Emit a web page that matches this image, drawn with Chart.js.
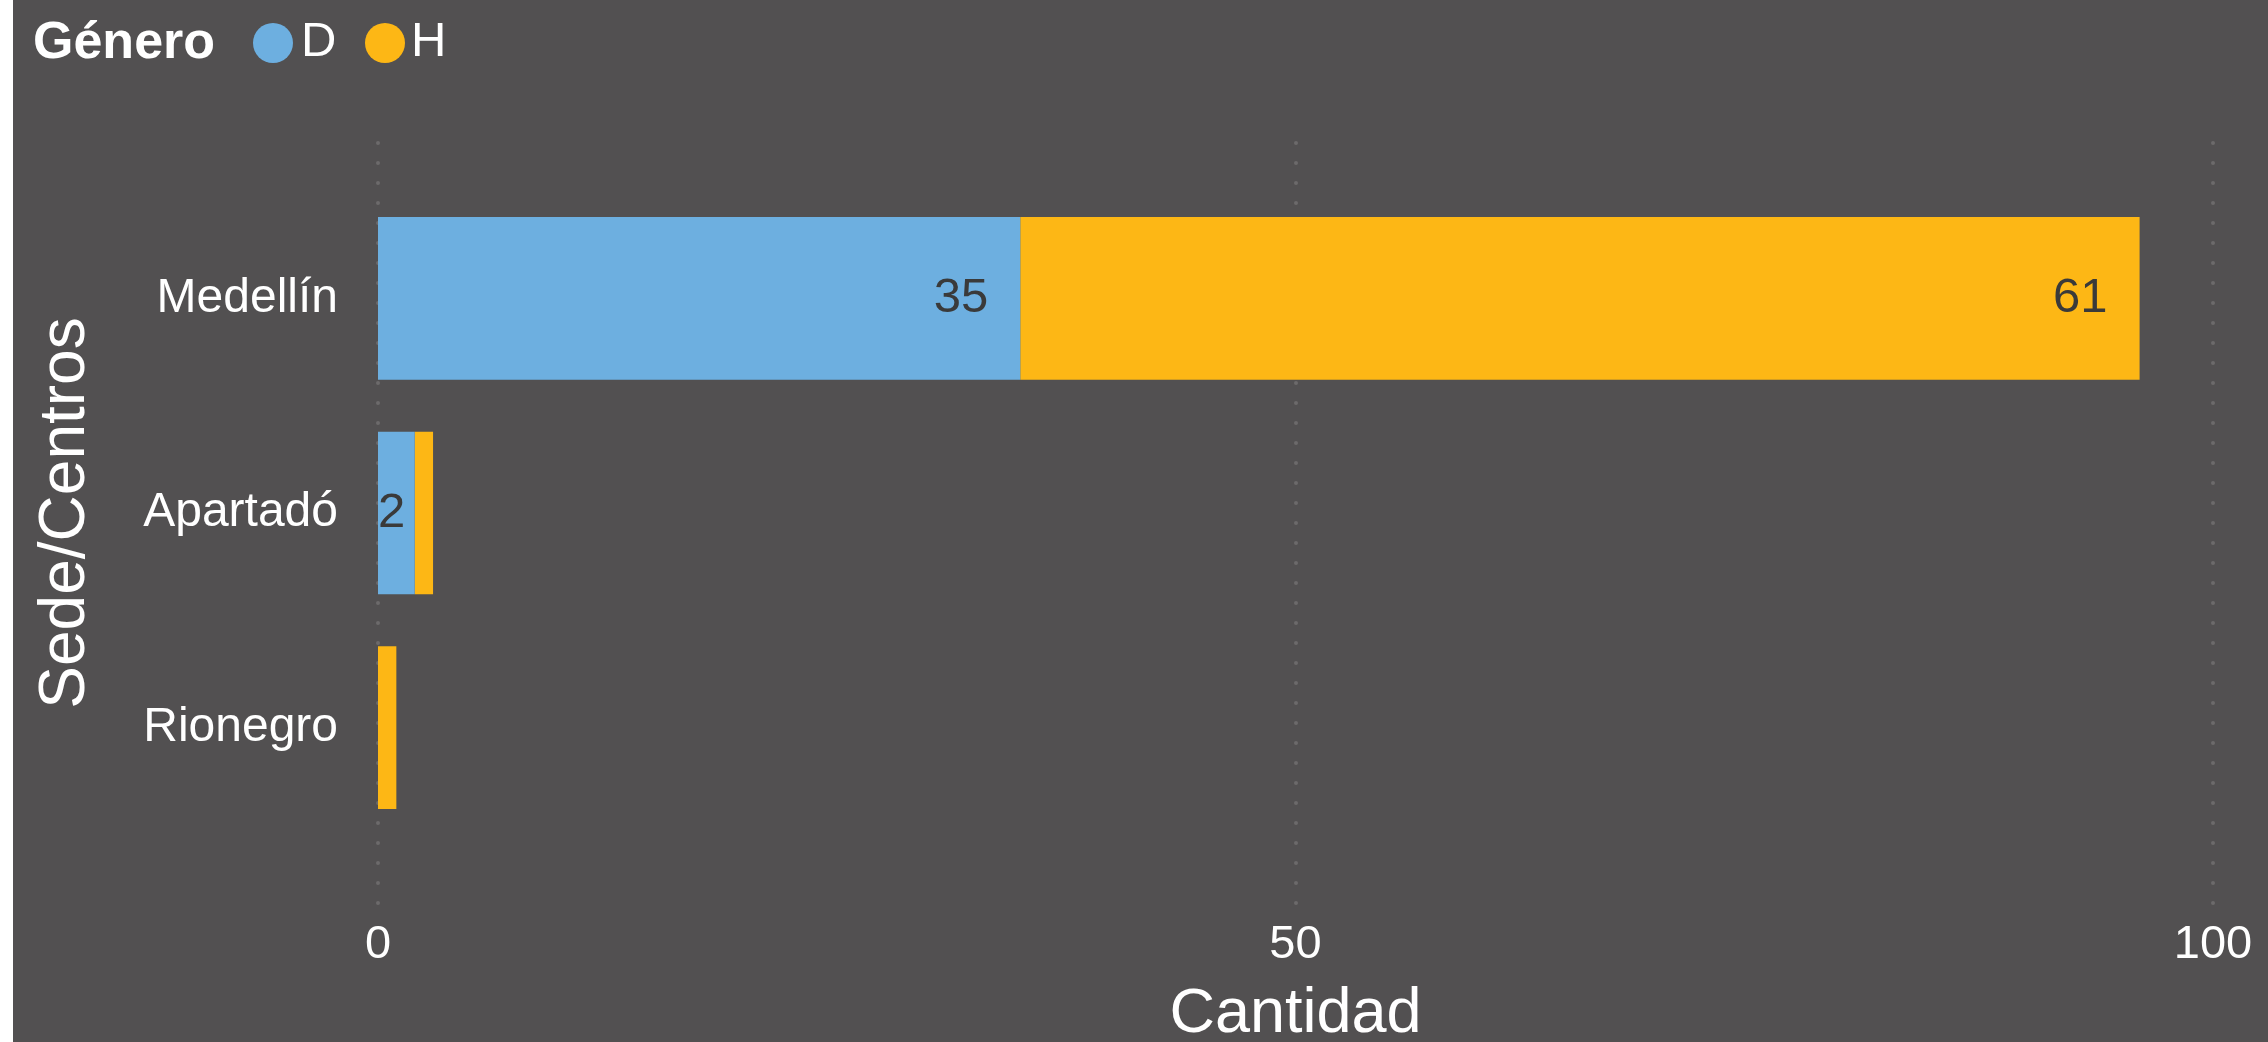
<!DOCTYPE html>
<html>
<head>
<meta charset="utf-8">
<script src="https://cdn.jsdelivr.net/npm/chart.js@4.4.1/dist/chart.umd.min.js"></script>
<style>
  html, body { margin: 0; padding: 0; background: #ffffff; overflow: hidden; }
  #panel {
    position: absolute; left: 13px; top: 0; width: 2255px; height: 1042px;
    background: #525051; font-family: "Liberation Sans", Arial, sans-serif; color: #ffffff;
  }
  #panel canvas { position: absolute; left: 0; top: 0; }
  .leg { position: absolute; line-height: 1; white-space: nowrap; }
  .dot { position: absolute; width: 40px; height: 40px; border-radius: 50%; }
</style>
</head>
<body>
<div id="panel">
  <canvas id="chart"></canvas>
  <span class="leg" style="left:20px; top:14px; font-size:52px; font-weight:bold;">Género</span>
  <div class="dot" style="left:240px; top:23px; background:#6DAFE0;"></div>
  <span class="leg" style="left:288px; top:15px; font-size:49px;">D</span>
  <div class="dot" style="left:352px; top:23px; background:#FDB715;"></div>
  <span class="leg" style="left:398px; top:15px; font-size:49px;">H</span>
</div>
<script>
// datos
const sedes = ['Medellín', 'Apartadó', 'Rionegro'];
const valoresD = [35, 2, 0];
const valoresH = [61, 1, 1];
const ticksX = [0, 50, 100];

const FONT = '"Liberation Sans", Arial, sans-serif';

// lineas punteadas de la cuadricula (se salen del area del grafico)
const gridDots = {
    id: 'gridDots',
    beforeDatasetsDraw(chart) {
        const ctx = chart.ctx;
        const x = chart.scales.x;
        ctx.save();
        ctx.strokeStyle = '#6c6a6b';
        ctx.lineWidth = 4;
        ctx.lineCap = 'round';
        ctx.setLineDash([0, 20]);
        x.ticks.forEach(t => {
            const px = Math.round(x.getPixelForValue(t.value));
            ctx.beginPath();
            ctx.moveTo(px, 143);
            ctx.lineTo(px, 904);
            ctx.stroke();
        });
        ctx.restore();
    }
};

// etiquetas de datos dentro del final de cada segmento
const barLabels = {
    id: 'barLabels',
    afterDatasetsDraw(chart) {
        const ctx = chart.ctx;
        ctx.save();
        ctx.font = '49px ' + FONT;
        ctx.fillStyle = '#3a3a3a';
        ctx.textBaseline = 'middle';
        ctx.textAlign = 'left';
        chart.data.datasets.forEach((ds, i) => {
            chart.getDatasetMeta(i).data.forEach((bar, j) => {
                const v = ds.data[j];
                if (!v) return;
                const w = Math.abs(bar.x - bar.base);
                if (w < 25) return;
                const txt = String(v);
                const tw = ctx.measureText(txt).width;
                let left = bar.x - 32 - tw;
                if (left < bar.base) left = bar.base;
                ctx.fillText(txt, left, bar.y);
            });
        });
        ctx.restore();
    }
};

const canvas = document.getElementById('chart');
canvas.width = 2255;
canvas.height = 1042;
canvas.style.width = '2255px';
canvas.style.height = '1042px';

new Chart(canvas, {
    type: 'bar',
    data: {
        labels: sedes,
        datasets: [
            { label: 'D', data: valoresD, backgroundColor: '#6DAFE0', borderWidth: 0 },
            { label: 'H', data: valoresH, backgroundColor: '#FDB715', borderWidth: 0 }
        ]
    },
    options: {
        indexAxis: 'y',
        responsive: false,
        animation: false,
        devicePixelRatio: 1,
        categoryPercentage: 1,
        barPercentage: 0.758,
        layout: { padding: { left: 0, right: 55, top: 191, bottom: 0 } },
        plugins: {
            legend: { display: false },
            tooltip: { enabled: false }
        },
        scales: {
            x: {
                stacked: true,
                min: 0,
                max: 100,
                afterBuildTicks(axis) { axis.ticks = ticksX.map(v => ({ value: v })); },
                afterFit(axis) {
                    axis.height = 207;
                    axis.paddingLeft = 0;
                    axis.paddingRight = 0;
                },
                grid: { display: false, drawTicks: false },
                border: { display: false },
                ticks: { color: '#ffffff', font: { family: FONT, size: 47 }, padding: 82, maxRotation: 0 },
                title: {
                    display: true, text: 'Cantidad', color: '#ffffff',
                    font: { family: FONT, size: 63, lineHeight: 0.87 },
                    padding: { top: 0, bottom: 0 }
                }
            },
            y: {
                stacked: true,
                afterFit(axis) { axis.width = 365; },
                grid: { display: false, drawTicks: false },
                border: { display: false },
                ticks: { color: '#ffffff', font: { family: FONT, size: 48 }, padding: 40 },
                title: {
                    display: true, text: 'Sede/Centros', color: '#ffffff',
                    font: { family: FONT, size: 64, lineHeight: 1 },
                    padding: { top: 21, bottom: 0 }
                }
            }
        }
    },
    plugins: [gridDots, barLabels]
});
</script>
</body>
</html>
